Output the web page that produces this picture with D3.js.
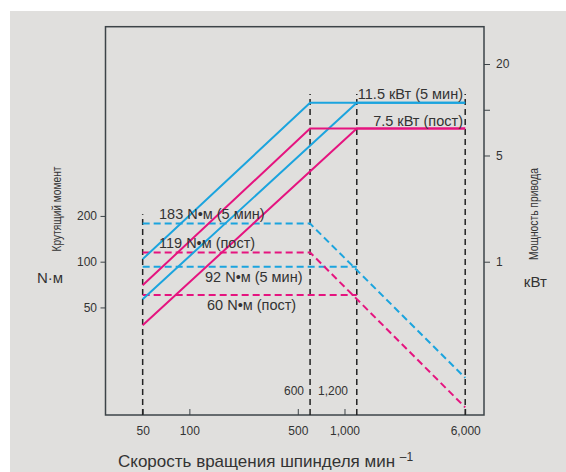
<!DOCTYPE html>
<html>
<head>
<meta charset="utf-8">
<script src="https://cdn.jsdelivr.net/npm/d3@7"></script>
<style>
  body { margin: 0; background: #fff; }
  svg { display: block; font-family: "Liberation Sans", Arial, sans-serif; }
</style>
</head>
<body>
<div id="chart"></div>
<script>
// tick values
const rpmTicks = [50, 100, 500, 1000, 6000];
const torqueTicks = [50, 100, 200];
const powerTicks = [1, 5, 10, 20];
const powerTickLabels = ["1", "5", "", "20"];

// power curves (kW) vs spindle speed
const power5minA = [[50, 1.04], [600, 11.1], [6000, 11.1]];
const power5minB = [[50, 0.567], [1200, 11.1], [6000, 11.1]];
const powerContA = [[50, 0.70], [600, 7.52], [6000, 7.52]];
const powerContB = [[50, 0.382], [1200, 7.52], [6000, 7.52]];

// torque curves (N·m) vs spindle speed
const torque5minA = [[50, 178], [600, 178], [6000, 17.2]];
const torque5minB = [[50, 92.7], [1200, 92.7]];
const torqueContA = [[50, 115], [600, 115], [6000, 11.0]];
const torqueContB = [[50, 60.4], [1200, 60.4]];

// vertical guides: speed and top (torque units)
const guideRpm = [50, 600, 1200, 6000];
const guideTop = [205, 1270, 1270, 1270];

const W = 566, H = 472;
const blue = "#1ba4de", pink = "#e5147f";

const svg = d3.select("#chart").append("svg")
    .attr("width", W).attr("height", H);

// grey panel
svg.append("rect")
    .attr("x", 10).attr("y", 11)
    .attr("width", W - 10).attr("height", H - 11)
    .attr("fill", "#e0dfdd");

const x = d3.scaleLog().domain([28.8, 7930]).range([105.5, 484]);
const yT = d3.scaleLog().domain([9.8, 3516]).range([415, 26.7]);
const yP = d3.scaleLog().domain([0.098, 35.2]).range([415, 26.7]);

// ---- axes
const axisCol = "#3d4448";

const gx = svg.append("g")
    .attr("transform", "translate(0,415)")
    .call(d3.axisBottom(x).tickValues(rpmTicks)
        .tickSizeInner(-6).tickSizeOuter(0).tickPadding(11)
        .tickFormat(d3.format(",")));

const gl = svg.append("g")
    .attr("transform", "translate(105.5,0)")
    .call(d3.axisLeft(yT).tickValues(torqueTicks)
        .tickSize(5).tickPadding(3.5).tickFormat(d3.format("d")));

const gr = svg.append("g")
    .attr("transform", "translate(484,0)")
    .call(d3.axisRight(yP).tickValues(powerTicks)
        .tickSize(6).tickPadding(6)
        .tickFormat((d, i) => powerTickLabels[i]));

[gx, gl, gr].forEach(g => {
    g.select(".domain").remove();
    g.selectAll("line").attr("stroke", axisCol).attr("stroke-width", 1);
    g.selectAll("text").attr("fill", "#333").style("font-size", "12px")
        .style("font-family", "'Liberation Sans', Arial, sans-serif");
});

// frame
svg.append("rect")
    .attr("x", 105.5).attr("y", 26.7)
    .attr("width", 484 - 105.5).attr("height", 415 - 26.7)
    .attr("fill", "none")
    .attr("stroke", axisCol)
    .attr("stroke-width", 1.5);

// ---- vertical guides
svg.append("g").selectAll("line")
    .data(guideRpm)
    .join("line")
    .attr("x1", d => x(d)).attr("x2", d => x(d))
    .attr("y1", 415)
    .attr("y2", (d, i) => yT(guideTop[i]))
    .attr("stroke", "#222")
    .attr("stroke-width", 1.5)
    .attr("stroke-dasharray", "6,4");

// ---- curves
const linePow = d3.line().x(d => x(d[0])).y(d => yP(d[1]));
const lineTor = d3.line().x(d => x(d[0])).y(d => yT(d[1]));

const curves = [
    {data: torque5minA, line: lineTor, color: blue, dash: "7,4"},
    {data: torque5minB, line: lineTor, color: blue, dash: "7,4"},
    {data: torqueContA, line: lineTor, color: pink, dash: "7,4"},
    {data: torqueContB, line: lineTor, color: pink, dash: "7,4"},
    {data: power5minA, line: linePow, color: blue, dash: null},
    {data: power5minB, line: linePow, color: blue, dash: null},
    {data: powerContA, line: linePow, color: pink, dash: null},
    {data: powerContB, line: linePow, color: pink, dash: null}
];

svg.append("g").selectAll("path")
    .data(curves)
    .join("path")
    .attr("d", d => d.line(d.data))
    .attr("fill", "none")
    .attr("stroke", d => d.color)
    .attr("stroke-width", 2)
    .attr("stroke-dasharray", d => d.dash);

// ---- curve labels
const labels = [
    {t: "11.5 кВт (5 мин)", x: 463, y: 99, a: "end"},
    {t: "7.5 кВт (пост)", x: 463, y: 126, a: "end"},
    {t: "183 N•м (5 мин)", x: 159, y: 219, a: "start"},
    {t: "119 N•м (пост)", x: 159, y: 248, a: "start"},
    {t: "92 N•м (5 мин)", x: 205, y: 282, a: "start"},
    {t: "60 N•м (пост)", x: 207, y: 310, a: "start"}
];

svg.append("g").selectAll("text")
    .data(labels)
    .join("text")
    .attr("x", d => d.x).attr("y", d => d.y)
    .attr("text-anchor", d => d.a)
    .attr("fill", "#333")
    .style("font-size", "14.5px")
    .text(d => d.t);

svg.append("text").attr("x", 304).attr("y", 395)
    .attr("text-anchor", "end").attr("fill", "#333")
    .style("font-size", "12px").text("600");
svg.append("text").attr("x", 318).attr("y", 395)
    .attr("fill", "#333")
    .style("font-size", "12px").text("1,200");

// ---- axis titles
svg.append("text")
    .attr("x", 50).attr("y", 282.7)
    .attr("text-anchor", "middle").attr("fill", "#333")
    .style("font-size", "15px").text("N·м");

svg.append("text")
    .attr("transform", "translate(61,209) rotate(-90)")
    .attr("text-anchor", "middle").attr("fill", "#333")
    .attr("textLength", 85).attr("lengthAdjust", "spacingAndGlyphs")
    .style("font-size", "12px").text("Крутящий момент");

svg.append("text")
    .attr("transform", "translate(538,214) rotate(-90)")
    .attr("text-anchor", "middle").attr("fill", "#333")
    .attr("textLength", 92).attr("lengthAdjust", "spacingAndGlyphs")
    .style("font-size", "12px").text("Мощность привода");

svg.append("text")
    .attr("x", 535.3).attr("y", 286.7)
    .attr("text-anchor", "middle").attr("fill", "#333")
    .style("font-size", "15px").text("кВт");

const xt = svg.append("text")
    .attr("x", 118).attr("y", 467)
    .attr("fill", "#333")
    .style("font-size", "17px");
xt.append("tspan").text("Скорость вращения шпинделя мин ");
xt.append("tspan").attr("dy", -6).style("font-size", "12px").text("–1");
</script>
</body>
</html>
